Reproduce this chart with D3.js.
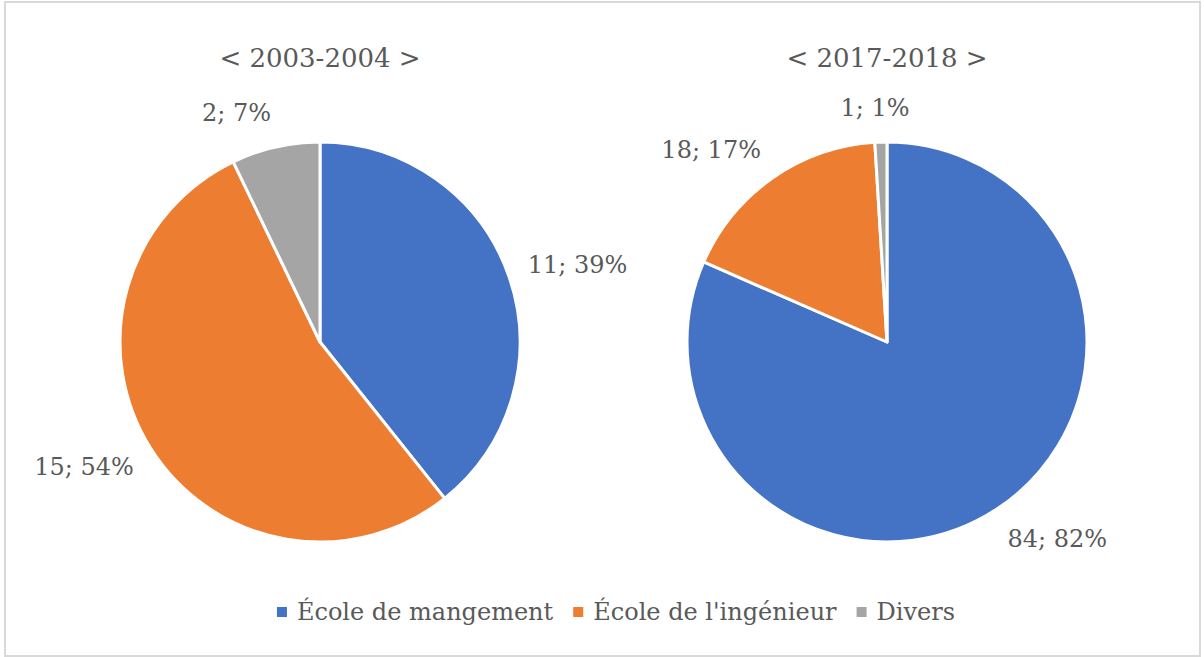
<!DOCTYPE html>
<meta charset="utf-8">
<style>
  body { margin: 0; background: #fff; }
  text { font-family: "DejaVu Serif", serif; fill: #595959; }
</style>
<svg width="1204" height="657"></svg>
<script src="https://d3js.org/d3.v7.min.js"></script>
<script>

// categories and values for both years
var categories = ["École de mangement", "École de l'ingénieur", "Divers"]
var periods = ["< 2003-2004 >", "< 2017-2018 >"]
var values2003 = [11, 15, 2]
var values2017 = [84, 18, 1]
var colors = ["#4472C4", "#ED7D31", "#A5A5A5"]

var width = 1204
var height = 657
var radius = 200
var svg = d3.select("svg")

// light frame around the chart area
svg.append("rect")
  .attr("x", 5).attr("y", 2)
  .attr("width", width - 9).attr("height", height - 3)
  .attr("fill", "none")
  .attr("stroke", "#d9d9d9")
  .attr("stroke-width", 2)

var pieX = d3.scalePoint().domain(periods).range([320, 887])

var pie = d3.pie().sort(null).value(function (d) { return d })
var arc = d3.arc().innerRadius(0).outerRadius(radius)

function drawPie(title, values) {
  var total = d3.sum(values)
  var cx = pieX(title), cy = 342
  var g = svg.append("g").attr("transform", "translate(" + cx + "," + cy + ")")

  svg.append("text")
    .attr("x", cx).attr("y", 67)
    .attr("text-anchor", "middle")
    .style("font-size", "26px")
    .text(title)

  var slices = pie(values)
  g.selectAll("path")
    .data(slices)
    .enter().append("path")
      .attr("d", arc)
      .attr("fill", function (d, i) { return colors[i] })
      .attr("stroke", "#fff")
      .attr("stroke-width", 3)
      .attr("stroke-linejoin", "round")

  // outside-end labels, placed like excel does it
  g.selectAll("text.lbl")
    .data(slices)
    .enter().append("text")
      .attr("class", "lbl")
      .style("font-size", "24px")
      .attr("text-anchor", "middle")
      .attr("dy", "0.35em")
      .text(function (d) { return d.data + "; " + Math.round(d.data / total * 100) + "%" })
      .each(function (d) {
        var a = (d.startAngle + d.endAngle) / 2
        var dx = Math.sin(a), dy = -Math.cos(a)
        var w = this.getComputedTextLength(), h = 30
        var qx = (radius + 20) * dx, qy = (radius + 20) * dy
        var k = Math.max(-1, Math.min(1, dx * 5))
        d3.select(this)
          .attr("x", qx + k * w / 2)
          .attr("y", qy + dy * h / 2)
      })
}

drawPie(periods[0], values2003)
drawPie(periods[1], values2017)

// legend along the bottom
var legend = svg.append("g")
var lx = 0
categories.forEach(function (c, i) {
  var item = legend.append("g").attr("transform", "translate(" + lx + ",0)")
  item.append("rect")
    .attr("x", 0).attr("y", -5)
    .attr("width", 10).attr("height", 10)
    .attr("fill", colors[i])
  var t = item.append("text")
    .attr("x", 20).attr("y", 0)
    .attr("dy", "0.35em")
    .style("font-size", "24px")
    .text(c)
  lx += 20 + t.node().getComputedTextLength() + 20
})
lx -= 20
legend.attr("transform", "translate(" + (616 - lx / 2) + ",612)")

</script>
